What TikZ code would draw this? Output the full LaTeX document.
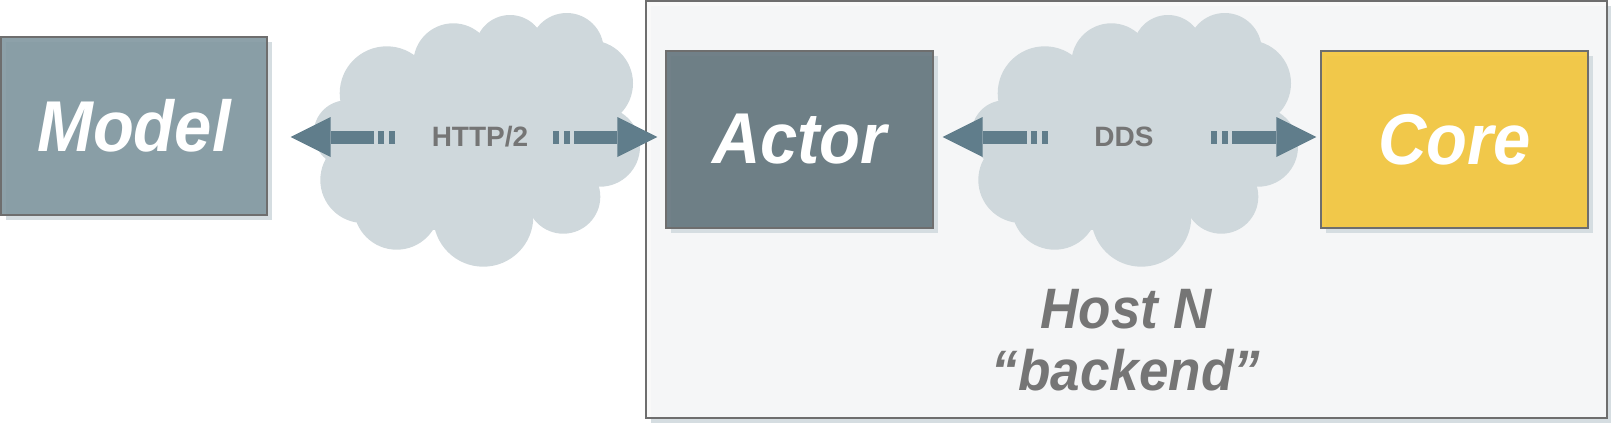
\documentclass[tikz,border=0pt]{standalone}
\usepackage{fontspec}
\setmainfont{Liberation Sans}
\usepackage{xcolor}
\usetikzlibrary{arrows.meta}
\usetikzlibrary{shadows}
\definecolor{modelblue}{HTML}{8399A2}
\definecolor{actorblue}{HTML}{66777F}
\definecolor{coreyellow}{HTML}{F4C73E}
\definecolor{hostgray}{HTML}{F8F9F9}
\definecolor{edgegray}{HTML}{6E6E6E}
\definecolor{shadowgray}{HTML}{D5DDE1}
\definecolor{cloudgray}{HTML}{CFD8DC}
\definecolor{arrowblue}{HTML}{607D8B}
\definecolor{labelgray}{HTML}{757575}

\begin{document}
\begin{tikzpicture}[x=0.5pt, y=-0.5pt,
  box/.style={draw=edgegray, line width=0.6pt, fill opacity=0.92, text opacity=1,
    inner sep=0pt, minimum width=133.5pt, minimum height=88.5pt, text=white,
    font=\fontsize{36}{40}\selectfont\bfseries\itshape,
    drop shadow={shadow xshift=2.5pt, shadow yshift=-2.5pt, opacity=1, fill=shadowgray}},
  proto/.style={inner sep=0pt, text=labelgray, font=\fontsize{14}{16}\selectfont\bfseries},
  link/.style={line width=6.5pt, draw=arrowblue,
    dash pattern=on 3pt off 2.5pt on 3pt off 2pt on 400pt off 1pt,
    -{Triangle[length=20pt, width=20pt, line width=0pt]}}]
  \useasboundingbox (0,0) rectangle (1611,423);
  % host frame
  \node [box, fill=hostgray, minimum width=480.5pt, minimum height=208.5pt] (host) at (1126.5,209.5) {};
  % clouds
  \foreach \dx in {0,658} {
    \foreach \cx/\cy/\r in {346.7/133.3/33, 363.3/180/43, 396.7/206.7/43, 483.3/216.7/50,
        563.3/196.7/37, 600/146.7/40, 590/83.3/43, 566.7/50/37, 510/50/35, 453.3/63.3/40,
        386.7/93.3/47, 430/160/70, 530/140/70, 476/140/80}
      \fill [cloudgray] (\cx+\dx,\cy) circle [radius=\r];
  }
  \node [anchor=base, align=center, text=labelgray, font=\fontsize{28.5}{31}\selectfont\bfseries\itshape]
    (hostlbl) at (1126,390) {\scalebox{0.93}[1]{Host N}\\\scalebox{0.93}[1]{“backend”}};
  % boxes
  \node [box, fill=modelblue, minimum width=133pt, minimum height=89pt] (model) at (134,126) {\scalebox{0.93}[1]{Model}};
  \node [box, fill=actorblue] (actor) at (799.5,139.5) {\scalebox{0.93}[1]{Actor}};
  \node [box, fill=coreyellow] (core) at (1454.5,139.5) {\scalebox{0.93}[1]{Core}};
  % protocols
  \node [proto] (http) at (480,137) {HTTP/2};
  \node [proto] (dds) at (1124,137) {DDS};
  \draw [link, shorten <=42.5pt, shorten >=11.5pt] (http.center) -- (model.east |- http);
  \draw [link, shorten <=36.5pt, shorten >=4pt] (http.center) -- (actor.west |- http);
  \draw [link, shorten <=38pt, shorten >=4.5pt] (dds.center) -- (actor.east |- dds);
  \draw [link, shorten <=43.5pt, shorten >=2pt] (dds.center) -- (core.west |- dds);
\end{tikzpicture}
\end{document}
